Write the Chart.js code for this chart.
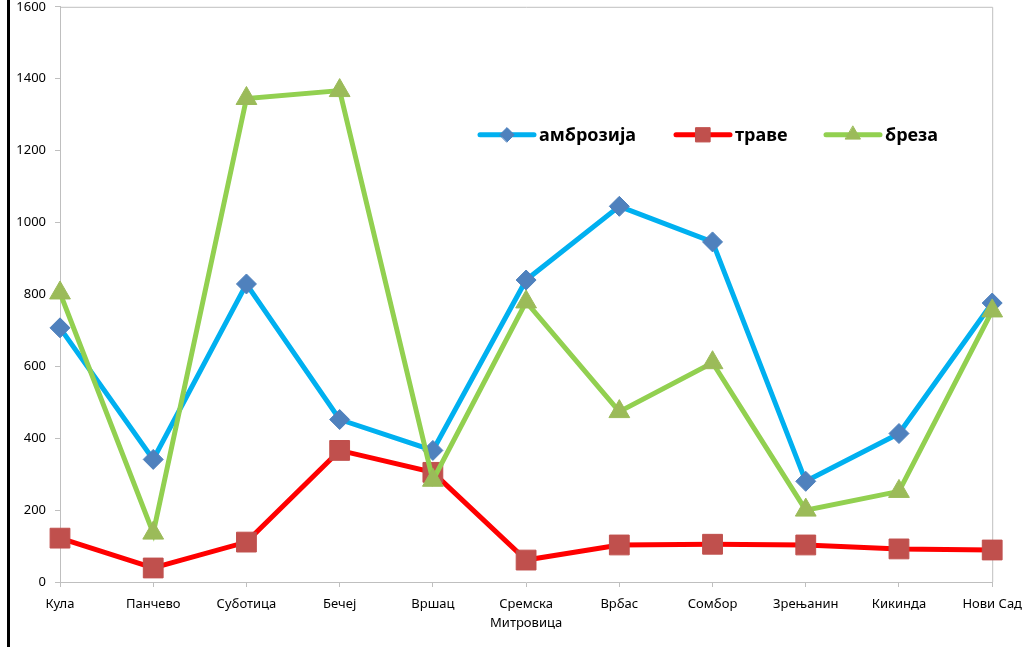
<!DOCTYPE html>
<html lang="sr">
<head>
<meta charset="UTF-8">
<title>Полен по градовима</title>
<script src="https://cdn.jsdelivr.net/npm/chart.js"></script>
<style>
    html, body {
        margin: 0;
        padding: 0;
        background: #fff;
        overflow: hidden;
    }
    #wrap {
        position: relative;
        width: 1030px;
        height: 647px;
        overflow: hidden;
    }
    #polenChart {
        position: absolute;
        left: 0;
        top: -10px;
    }
    #edge {
        position: absolute;
        left: 7px;
        top: 0;
        width: 3px;
        height: 647px;
        background: #000;
    }
</style>
</head>
<body>
<div id="wrap">
    <canvas id="polenChart" width="1030" height="657"></canvas>
    <div id="edge"></div>
</div>
<script>
const gradovi = ['Кула', 'Панчево', 'Суботица', 'Бечеј', 'Вршац', ['Сремска', 'Митровица'],
                 'Врбас', 'Сомбор', 'Зрењанин', 'Кикинда', 'Нови Сад'];
const ambrozija = [707, 341, 829, 452, 366, 840, 1045, 946, 280, 413, 776];
const trave     = [122, 39, 111, 366, 305, 61, 103, 105, 103, 92, 89];
const breza     = [804, 136, 1345, 1367, 283, 779, 474, 610, 200, 252, 754];
const yTicks    = [0, 200, 400, 600, 800, 1000, 1200, 1400, 1600];

const FONT = "'Noto Sans', sans-serif";

// legenda sa linijom i markerom, crta se unutar oblasti grafika
const legendaPlugin = {
    id: 'legenda',
    afterDraw(chart) {
        const ctx = chart.ctx;
        const a = chart.chartArea;
        const y = a.top + 128;
        const pomak = [0, 196, 346];
        ctx.save();
        ctx.font = "bold 18px " + FONT;
        ctx.textBaseline = 'middle';
        chart.data.datasets.forEach((ds, i) => {
            const x = a.left + 420 + pomak[i];
            ctx.strokeStyle = ds.borderColor;
            ctx.lineWidth = 5;
            ctx.lineCap = 'round';
            ctx.beginPath();
            ctx.moveTo(x, y);
            ctx.lineTo(x + 54, y);
            ctx.stroke();
            ctx.fillStyle = ds.pointBackgroundColor;
            ctx.strokeStyle = ds.pointBorderColor;
            ctx.lineWidth = 1;
            Chart.helpers.drawPoint(ctx, {
                pointStyle: ds.pointStyle,
                radius: ds.pointRadius * 0.72,
                borderWidth: 1
            }, x + 27, y);
            ctx.fillStyle = '#000';
            ctx.fillText(ds.label, x + 59, y + 1);
        });
        ctx.restore();
    }
};

// siv okvir oko oblasti grafika (gore i desno)
const okvirPlugin = {
    id: 'okvir',
    beforeDatasetsDraw(chart) {
        const ctx = chart.ctx;
        const a = chart.chartArea;
        ctx.save();
        ctx.strokeStyle = '#bfbfbf';
        ctx.lineWidth = 1;
        ctx.beginPath();
        ctx.moveTo(a.left, a.top + 0.5);
        ctx.lineTo(a.right + 0.5, a.top + 0.5);
        ctx.lineTo(a.right + 0.5, a.bottom);
        ctx.stroke();
        ctx.restore();
    }
};

function serija(label, data, linija, marker, stil, r, red) {
    return {
        label: label,
        data: data,
        borderColor: linija,
        borderWidth: 5,
        backgroundColor: marker,
        pointStyle: stil,
        pointRadius: r,
        pointHoverRadius: r,
        pointBackgroundColor: marker,
        pointBorderColor: marker,
        pointBorderWidth: 1,
        tension: 0,
        order: red
    };
}

new Chart(document.getElementById('polenChart'), {
    type: 'line',
    data: {
        labels: gradovi,
        datasets: [
            serija('амброзија', ambrozija, '#00b0f0', '#4f81bd', 'rectRot', 10, 2),
            serija('траве', trave, '#ff0000', '#c0504d', 'rect', 14, 1),
            serija('бреза', breza, '#92d050', '#9bbb59', 'triangle', 12, 0)
        ]
    },
    options: {
        responsive: false,
        animation: false,
        layout: { padding: { top: 5, right: 37, left: 0, bottom: 0 } },
        plugins: {
            legend: { display: false },
            tooltip: { enabled: false }
        },
        scales: {
            x: {
                offset: false,
                grid: {
                    drawOnChartArea: false,
                    drawTicks: true,
                    tickLength: 5,
                    color: '#bfbfbf'
                },
                border: { color: '#bfbfbf' },
                ticks: {
                    color: '#000',
                    font: { family: FONT, size: 13, lineHeight: 1.45 },
                    maxRotation: 0,
                    autoSkip: false,
                    padding: 8
                },
                afterFit(scale) { scale.height = 65; }
            },
            y: {
                min: 0,
                max: 1600,
                afterBuildTicks(scale) {
                    scale.ticks = yTicks.map(v => ({ value: v }));
                },
                grid: {
                    drawOnChartArea: false,
                    drawTicks: true,
                    tickLength: 5,
                    color: '#bfbfbf'
                },
                border: { color: '#bfbfbf' },
                ticks: {
                    color: '#000',
                    font: { family: FONT, size: 13 },
                    padding: 9,
                    callback: v => String(v)
                },
                afterFit(scale) {
                    scale.width = 60;
                }
            }
        }
    },
    plugins: [okvirPlugin, legendaPlugin]
});
</script>
</body>
</html>
